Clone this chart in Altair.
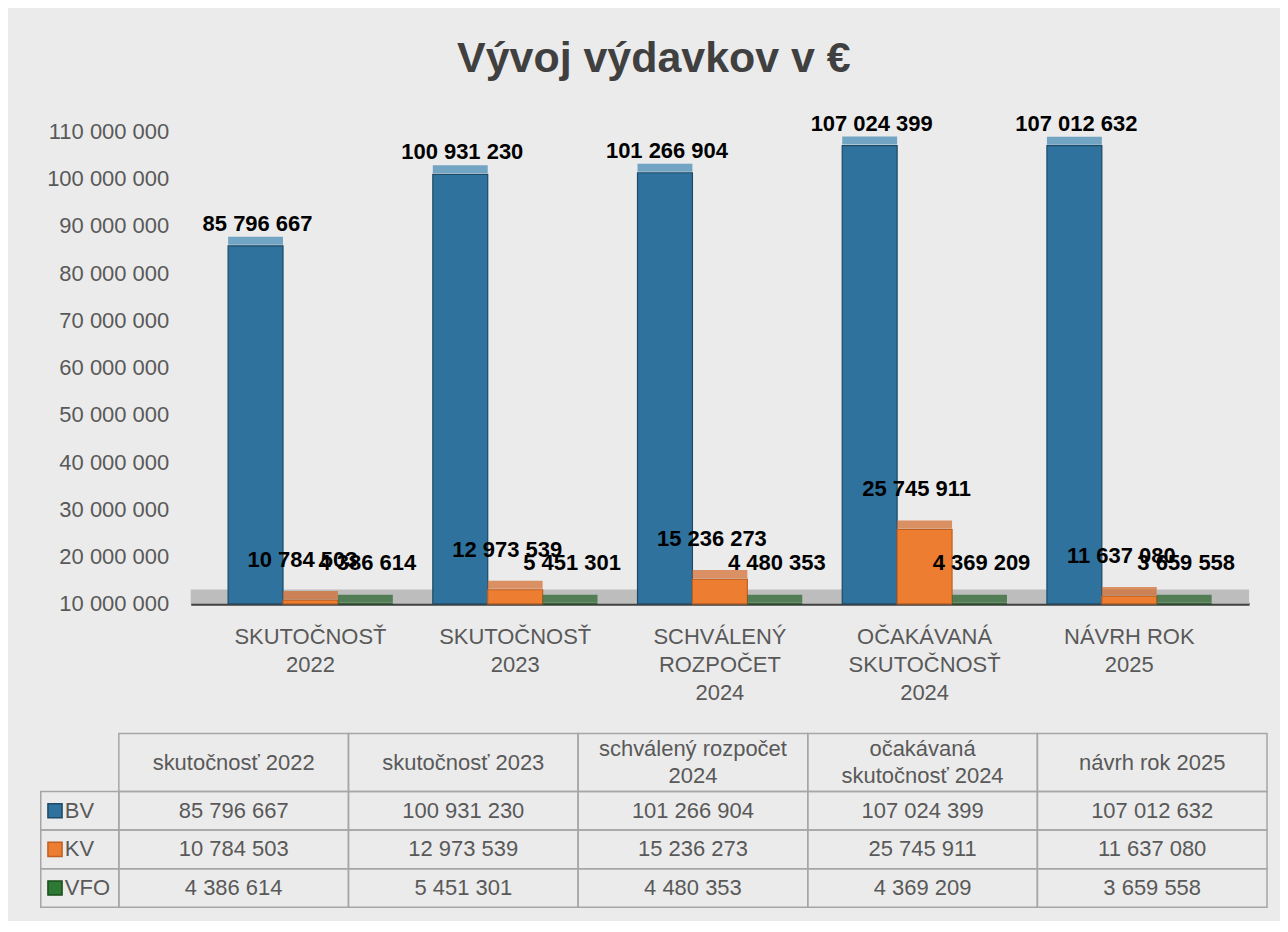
import altair as alt
import pandas as pd

# ---------------- data ----------------
axis_categories = [
    "SKUTOČNOSŤ|2022",
    "SKUTOČNOSŤ|2023",
    "SCHVÁLENÝ|ROZPOČET|2024",
    "OČAKÁVANÁ|SKUTOČNOSŤ|2024",
    "NÁVRH ROK|2025",
]
table_headers = [
    "skutočnosť 2022",
    "skutočnosť 2023",
    "schválený rozpočet|2024",
    "očakávaná|skutočnosť 2024",
    "návrh rok 2025",
]
series_names = ["BV", "KV", "VFO"]
bv_values = [85796667, 100931230, 101266904, 107024399, 107012632]
kv_values = [10784503, 12973539, 15236273, 25745911, 11637080]
vfo_values = [4386614, 5451301, 4480353, 4369209, 3659558]
y_ticks = [10000000, 20000000, 30000000, 40000000, 50000000, 60000000,
           70000000, 80000000, 90000000, 100000000, 110000000]

series_values = {"BV": bv_values, "KV": kv_values, "VFO": vfo_values}

bar_colors = ["#2f729e", "#ed7d31", "#2e7a33"]
top_colors = ["#3f86b3", "#d4692a", "#25622a"]
edge_colors = ["#1d4a66", "#c05f1f", "#1b4d1e"]

FONT = "Liberation Sans, Arial, sans-serif"


def fmt(v):
    return f"{v:,}".replace(",", " ")


rows = []
for s in series_names:
    for c, v in zip(axis_categories, series_values[s]):
        rows.append({"cat": c, "series": s, "value": v, "label": fmt(v)})
bars_df = pd.DataFrame(rows)

# ---------------- bar chart ----------------
x_enc = alt.X(
    "cat:N", sort=axis_categories, title=None,
    scale=alt.Scale(paddingInner=0, paddingOuter=0.085),
    axis=alt.Axis(labelExpr="split(datum.label, '|')", labelAngle=0,
                  labelFont=FONT, labelFontSize=22, labelColor="#595959",
                  labelPadding=23, labelLineHeight=28, ticks=False,
                  domainColor="#404040", domainWidth=3, grid=False),
)
xo_enc = alt.XOffset("series:N", sort=series_names,
                     scale=alt.Scale(paddingInner=0, paddingOuter=0.364))
y_enc = alt.Y(
    "value:Q", title=None,
    scale=alt.Scale(domain=[10000000, 110000000], clamp=True, nice=False, zero=False),
    axis=alt.Axis(values=y_ticks,
                  labelExpr="replace(format(datum.value, ','), regexp(',', 'g'), ' ')",
                  labelFont=FONT, labelFontSize=22, labelColor="#595959",
                  labelPadding=22, ticks=False, domain=False,
                  gridColor="#d6d6d6", gridWidth=1),
)

base = alt.Chart(bars_df).encode(x=x_enc, xOffset=xo_enc, y=y_enc)

floor = alt.Chart(alt.Data(values=[{}])).mark_rect(color="#bdbdbd").encode(
    x=alt.value(0), x2=alt.value(1060),
    y=alt.datum(10000000), y2=alt.datum(13000000),
)

bars = base.mark_bar(strokeWidth=1.2).encode(
    color=alt.Color("series:N", sort=series_names,
                    scale=alt.Scale(domain=series_names, range=bar_colors), legend=None),
    stroke=alt.Stroke("series:N", sort=series_names,
                      scale=alt.Scale(domain=series_names, range=edge_colors), legend=None),
)

tops = base.mark_tick(thickness=8, size=55, yOffset=-5).encode(
    color=alt.Color("series:N", sort=series_names,
                    scale=alt.Scale(domain=series_names, range=top_colors), legend=None),
)

label_style = dict(font=FONT, fontWeight="bold", fontSize=22, color="#000000", baseline="bottom")
lab_bv = base.transform_filter("datum.series == 'BV'").mark_text(dy=-10, dx=2, **label_style).encode(text="label:N")
lab_kv = base.transform_filter("datum.series == 'KV'").mark_text(dy=-28, dx=-8, **label_style).encode(text="label:N")
lab_vfo = base.transform_filter("datum.series == 'VFO'").mark_text(dy=-29, dx=2, **label_style).encode(text="label:N")

bar_chart = alt.layer(floor, bars, tops, lab_bv, lab_kv, lab_vfo).resolve_scale(
    color="independent"
).properties(width=1060, height=473)

# ---------------- data table ----------------
LINE_STEP = 0.724  # header line spacing in row units
cells = []
texts = []
for i, h in enumerate(table_headers):
    cells.append(dict(x0=i, x1=i + 1, y0=0, y1=1.5))
    lines = h.split("|")
    n = len(lines)
    for k, line in enumerate(lines):
        texts.append(dict(cx=i + 0.5, cy=0.75 + (k - (n - 1) / 2) * LINE_STEP, text=line))
for r, s in enumerate(series_names):
    cells.append(dict(x0=-0.34, x1=0, y0=1.5 + r, y1=2.5 + r))
    for i, v in enumerate(series_values[s]):
        cells.append(dict(x0=i, x1=i + 1, y0=1.5 + r, y1=2.5 + r))
        texts.append(dict(cx=i + 0.5, cy=2 + r, text=fmt(v)))
cells_df = pd.DataFrame(cells)
texts_df = pd.DataFrame(texts)

legend_df = pd.DataFrame({
    "series": series_names,
    "sx": [-0.278] * 3,
    "tx": [-0.235] * 3,
    "cy": [2, 3, 4],
})

tx_scale = alt.Scale(domain=[0.313, 5], nice=False, zero=False)
ty_scale = alt.Scale(domain=[0, 4.5], reverse=True, nice=False, zero=False)

grid_rects = alt.Chart(cells_df).mark_rect(
    fill="transparent", stroke="#a6a6a6", strokeWidth=1.5
).encode(
    x=alt.X("x0:Q", scale=tx_scale, axis=None), x2="x1:Q",
    y=alt.Y("y0:Q", scale=ty_scale, axis=None), y2="y1:Q",
)

cell_text = alt.Chart(texts_df).mark_text(
    font=FONT, fontSize=22, color="#595959"
).encode(
    x=alt.X("cx:Q", scale=tx_scale, axis=None),
    y=alt.Y("cy:Q", scale=ty_scale, axis=None),
    text="text:N",
)

keys = alt.Chart(legend_df).mark_square(size=200, filled=True, strokeWidth=1.5, opacity=1).encode(
    x=alt.X("sx:Q", scale=tx_scale, axis=None),
    y=alt.Y("cy:Q", scale=ty_scale, axis=None),
    color=alt.Color("series:N", scale=alt.Scale(domain=series_names, range=bar_colors), legend=None),
    stroke=alt.Stroke("series:N", scale=alt.Scale(domain=series_names, range=edge_colors), legend=None),
)

key_text = alt.Chart(legend_df).mark_text(
    font=FONT, fontSize=22, color="#595959", align="left"
).encode(
    x=alt.X("tx:Q", scale=tx_scale, axis=None),
    y=alt.Y("cy:Q", scale=ty_scale, axis=None),
    text="series:N",
)

table_chart = alt.layer(grid_rects, cell_text, keys, key_text).properties(width=1078, height=174)

# ---------------- compose ----------------
chart = alt.vconcat(
    bar_chart, table_chart, spacing=130, bounds="flush",
    title=alt.Title("Vývoj výdavkov v €", font=FONT, fontSize=43, fontWeight="bold",
                    color="#404040", anchor="middle", frame="bounds", offset=32),
).resolve_scale(
    x="independent", y="independent", color="independent", stroke="independent"
).properties(
    padding={"left": 32, "right": 12, "top": 29, "bottom": 12}
).configure(
    background="#ebebeb"
).configure_view(strokeWidth=0)

chart.save("out.html", embed_options={"renderer": "svg", "actions": False})
